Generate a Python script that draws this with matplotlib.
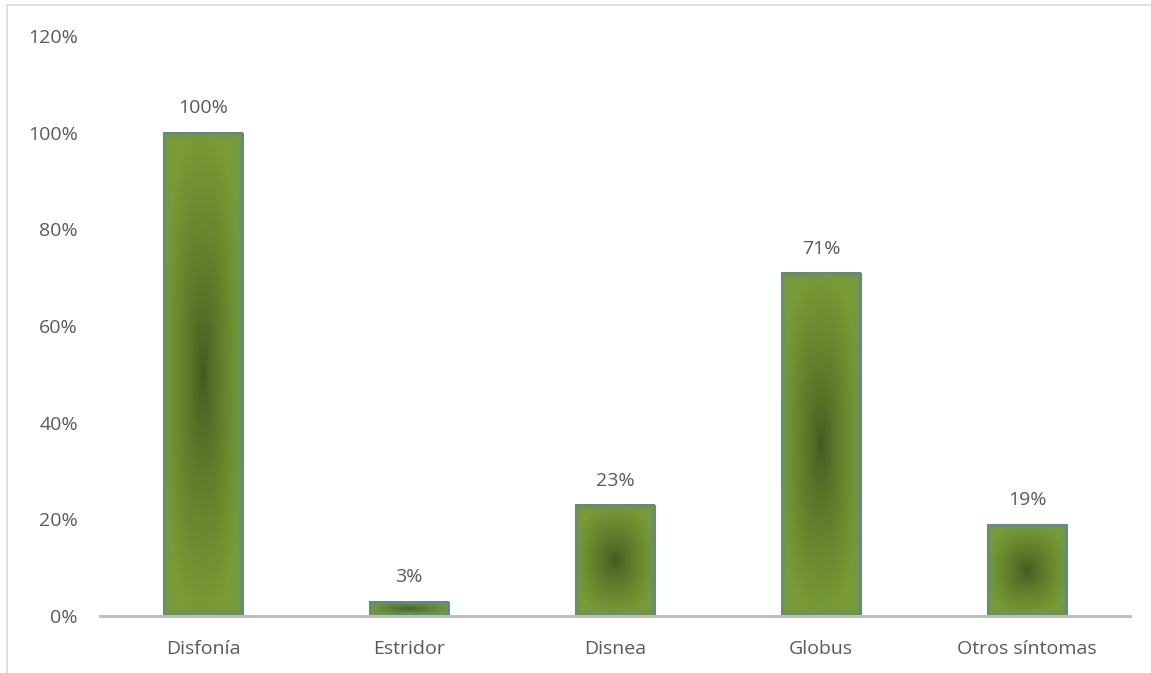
import numpy as np
import matplotlib
matplotlib.use("Agg")
import matplotlib.pyplot as plt
from matplotlib.patches import Rectangle
from matplotlib.lines import Line2D
from matplotlib.ticker import FuncFormatter

categories = ["Disfonía", "Estridor", "Disnea", "Globus", "Otros síntomas"]
values = [100, 3, 23, 71, 19]
yticks = [0, 20, 40, 60, 80, 100, 120]

plt.rcParams['font.family'] = ['Open Sans', 'DejaVu Sans']
txt = '#595959'
fs = 14

W, H = 1151, 673
fig = plt.figure(figsize=(W/100, H/100), dpi=100)
ax_l, ax_b, ax_w, ax_h = 100/W, 1-616/H, 1030/W, (616-36)/H
ax = fig.add_axes([ax_l, ax_b, ax_w, ax_h])
ax.set_xlim(-0.5, len(categories)-0.5)
ax.set_ylim(0, 120)

c_center = np.array([0.25, 0.35, 0.12])
c_outer = np.array([0.48, 0.61, 0.21])
c_rim = np.array([0.38, 0.53, 0.50])

width = 0.385
px_per_x = ax_w*W / len(categories)
px_per_y = ax_h*H / 120
for i, v in enumerate(values):
    x0 = i - width/2
    pw = max(int(round(width*px_per_x)), 2)
    ph = max(int(round(v*px_per_y)), 2)
    yy, xx = np.mgrid[0:ph, 0:pw].astype(float)
    yy = (yy + 0.5); xx = (xx + 0.5)
    nx = (xx - pw/2) / (pw/2)
    ny = (yy - ph/2) / (ph/2)
    p = 2.5
    t = np.clip((np.abs(nx)**p + np.abs(ny)**p)**(1/p), 0, 1)
    t = t**0.75
    img = c_center[None, None, :]*(1-t[..., None]) + c_outer[None, None, :]*t[..., None]
    d = np.minimum(np.minimum(xx, pw-xx), np.minimum(yy, ph-yy))
    w = np.exp(-d/3.0)[..., None]
    img = img*(1-w) + c_rim[None, None, :]*w
    ax.imshow(img, extent=[x0, x0+width, 0, v], aspect='auto',
              interpolation='bilinear', zorder=2, origin='lower')
    ax.add_patch(Rectangle((x0, 0), width, v, facecolor='none',
                           edgecolor='#63898c', lw=0.8, zorder=3))
    ax.annotate(f"{v}%", (i, v), xytext=(0, 11), textcoords='offset points',
                ha='center', va='bottom', fontsize=fs, color=txt)

ax.set_xlim(-0.5, len(categories)-0.5)
ax.set_ylim(0, 120)
ax.set_xticks(range(len(categories)))
ax.set_xticklabels(categories)
ax.set_yticks(yticks)
ax.yaxis.set_major_formatter(FuncFormatter(lambda v, p: f"{int(v)}%"))
ax.tick_params(axis='both', length=0, labelsize=fs, labelcolor=txt)
ax.tick_params(axis='x', pad=17)
ax.tick_params(axis='y', pad=16)
for s in ['top', 'right', 'left']:
    ax.spines[s].set_visible(False)
ax.spines['bottom'].set_color('#bfbfbf')
ax.spines['bottom'].set_linewidth(2.2)
ax.spines['bottom'].set_zorder(4)

# outer chart frame (left and top)
fig.add_artist(Line2D([7/W, 7/W], [0, 1-5/H], color='#d9d9d9', lw=1.2))
fig.add_artist(Line2D([7/W, 1], [1-5/H, 1-5/H], color='#d9d9d9', lw=1.2))

fig.savefig('out.png', dpi=100)
